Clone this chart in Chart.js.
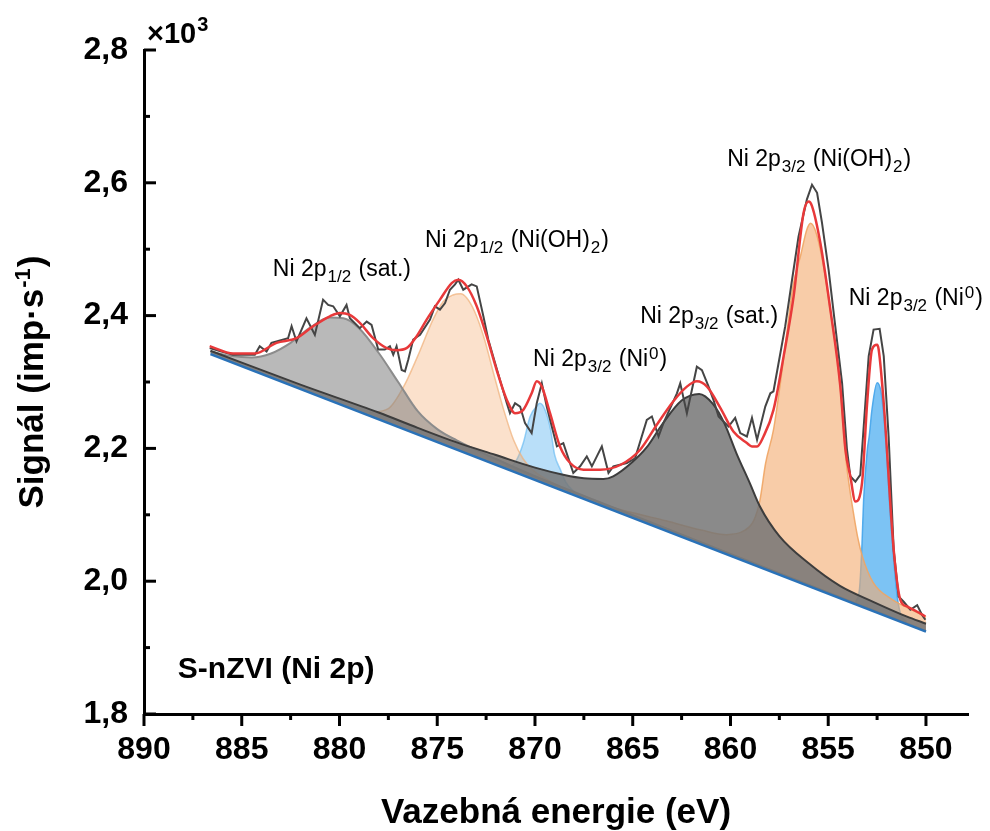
<!DOCTYPE html>
<html><head><meta charset="utf-8">
<script src="https://cdn.jsdelivr.net/npm/chart.js@4.4.1/dist/chart.umd.min.js"></script>
<style>html,body{margin:0;padding:0;background:#fff;}#wrap{width:990px;height:831px;}</style>
</head><body><div id="wrap"><canvas id="c" width="990" height="831"></canvas></div>
<script>
// ---------- data (binding energy in eV, signal in 10^3 imp/s) ----------
const rawEnergy = [886.64,886.04,885.44,884.33,884.08,883.73,883.48,882.63,882.45,882.2,881.69,881.43,881.26,880.84,880.58,880.32,879.98,879.64,879.47,878.96,878.61,878.36,878.02,877.68,877.42,877.25,877.08,876.82,876.65,876.48,876.23,875.88,875.37,875.12,874.86,874.6,874.35,874.09,873.92,873.67,873.24,872.98,872.64,872.39,871.79,871.44,871.28,871.02,870.76,870.51,870.17,869.91,869.65,869.4,869.14,868.88,868.55,868.04,867.69,867.35,867.09,866.58,866.24,865.99,865.3,864.88,864.28,864.02,863.68,863.43,862.74,862.57,862.23,861.72,861.46,861.12,860.87,860.61,860.1,859.76,859.5,859.16,858.9,858.64,858.22,857.96,857.8,857.2,856.85,856.52,856.09,855.83,855.57,855.32,854.98,854.64,854.29,854.04,853.87,853.61,853.36,852.93,852.68,852.37,852.16,851.91,851.65,851.4,851.14,850.8,850.45,850.2,850.03];
const rawSignal = [2.351,2.346,2.341,2.341,2.354,2.346,2.359,2.366,2.384,2.361,2.396,2.381,2.371,2.424,2.416,2.414,2.399,2.416,2.396,2.381,2.391,2.386,2.349,2.349,2.354,2.341,2.354,2.318,2.316,2.334,2.364,2.371,2.394,2.414,2.409,2.419,2.439,2.447,2.454,2.439,2.447,2.444,2.399,2.364,2.303,2.268,2.253,2.268,2.263,2.238,2.223,2.268,2.298,2.263,2.233,2.203,2.208,2.163,2.173,2.188,2.173,2.203,2.163,2.173,2.178,2.185,2.243,2.248,2.218,2.238,2.283,2.298,2.253,2.323,2.318,2.293,2.273,2.248,2.233,2.246,2.223,2.218,2.246,2.213,2.263,2.283,2.286,2.384,2.454,2.519,2.575,2.597,2.585,2.540,2.469,2.384,2.298,2.198,2.158,2.150,2.160,2.339,2.379,2.380,2.339,2.218,2.047,1.977,1.969,1.957,1.964,1.949,1.942];

const envelopeEnergy = [886.64,885.44,884.33,883.22,882.2,881.35,880.49,879.98,879.47,878.96,878.28,877.59,877.08,876.57,876.05,875.54,874.86,874.26,873.92,873.49,872.98,872.47,871.96,871.44,871.02,870.6,870.17,869.91,869.65,869.23,868.72,868.2,867.52,866.67,865.64,864.62,863.76,862.92,862.23,861.72,861.2,860.52,859.84,859.16,858.9,858.64,858.31,857.8,857.28,856.77,856.26,856.0,855.83,855.4,854.89,854.38,854.12,853.87,853.61,853.27,853.01,852.76,852.5,852.42,852.16,851.65,851.31,850.97,850.45,850.03];
const envelopeSignal = [2.354,2.343,2.343,2.359,2.366,2.384,2.399,2.404,2.401,2.389,2.366,2.351,2.348,2.351,2.369,2.394,2.424,2.449,2.454,2.444,2.414,2.369,2.318,2.273,2.253,2.258,2.283,2.301,2.293,2.253,2.203,2.178,2.168,2.168,2.175,2.198,2.236,2.271,2.293,2.301,2.293,2.261,2.225,2.208,2.203,2.203,2.218,2.258,2.339,2.429,2.555,2.572,2.565,2.509,2.409,2.293,2.198,2.158,2.120,2.148,2.268,2.349,2.356,2.349,2.268,2.047,1.972,1.962,1.954,1.947];

const baselineEnergy = [886.6, 850.0];
const baselineSignal = [2.342, 1.924];

// Ni 2p1/2 satellite
const sat12Energy = [886.6,885.5,884.5,883.5,882.5,881.5,880.5,879.8,879.0,878.0,877.0,876.0,875.0,874.0,872.0,870.0,866.0,860.0,850.0];
const sat12Signal = [2.346,2.339,2.337,2.343,2.359,2.382,2.397,2.396,2.381,2.344,2.300,2.256,2.229,2.212,2.184,2.158,2.111,2.041,1.925];
// Ni 2p1/2 Ni(OH)2
const ohx12Energy = [878.5,877.5,876.7,876.0,875.2,874.7,874.2,873.8,873.5,873.1,872.6,872.1,871.6,871.1,870.6,870.1,869.0,867.5];
const ohx12Signal = [2.254,2.260,2.294,2.339,2.395,2.421,2.431,2.433,2.427,2.407,2.366,2.311,2.258,2.213,2.184,2.167,2.147,2.126];
// Ni0 (869.8 eV)
const ni0aEnergy = [871.6,871.2,870.9,870.6,870.25,869.9,869.75,869.5,869.2,869.0,868.7,868.4,868.0,867.5];
const ni0aSignal = [2.173,2.174,2.185,2.208,2.248,2.264,2.268,2.259,2.228,2.191,2.168,2.148,2.135,2.125];
// Ni 2p3/2 satellite
const sat32Energy = [886.6,882.0,878.0,876.0,874.0,872.0,870.0,868.5,867.5,866.5,866.0,865.0,864.3,863.5,862.5,861.6,860.9,860.3,859.7,859.0,858.5,857.5,856.0,854.4,852.7,851.0,850.0];
const sat32Signal = [2.347,2.296,2.254,2.231,2.209,2.190,2.171,2.160,2.155,2.154,2.158,2.180,2.201,2.236,2.272,2.282,2.267,2.237,2.193,2.147,2.113,2.068,2.027,1.993,1.969,1.947,1.936];
// Ni 2p3/2 Ni(OH)2
const ohx32Energy = [866.7,865.0,863.3,861.5,860.2,859.3,858.8,858.5,858.2,857.8,857.45,857.1,856.8,856.4,856.1,855.9,855.6,855.2,854.9,854.55,854.3,854.1,853.9,853.75,853.5,853.25,852.7,851.7,850.8,850.0];
const ohx32Signal = [2.117,2.103,2.091,2.077,2.070,2.076,2.092,2.121,2.178,2.228,2.298,2.378,2.445,2.492,2.529,2.539,2.523,2.468,2.409,2.339,2.263,2.186,2.139,2.110,2.067,2.037,1.998,1.972,1.958,1.946];
// Ni 2p3/2 Ni0
const ni0bEnergy = [853.6,853.4,853.27,853.19,853.0,852.9,852.76,852.5,852.3,852.07,851.82,851.65,851.47,851.3,851.0];
const ni0bSignal = [1.969,1.988,2.057,2.122,2.198,2.219,2.259,2.299,2.285,2.218,2.098,2.032,1.977,1.951,1.939];

const xTickValues = [890,885,880,875,870,865,860,855,850];
const xMinorValues = [887.5,882.5,877.5,872.5,867.5,862.5,857.5,852.5];
const yTickValues = [1.8,2.0,2.2,2.4,2.6,2.8];
const yMinorValues = [1.9,2.1,2.3,2.5,2.7];

const peakLabels = [
  [["Ni 2p","n"],["1/2","sub"],[" (sat.)","n"]],
  [["Ni 2p","n"],["1/2","sub"],[" (Ni(OH)","n"],["2","sub"],[")","n"]],
  [["Ni 2p","n"],["3/2","sub"],[" (Ni","n"],["0","sup"],[")","n"]],
  [["Ni 2p","n"],["3/2","sub"],[" (sat.)","n"]],
  [["Ni 2p","n"],["3/2","sub"],[" (Ni(OH)","n"],["2","sub"],[")","n"]],
  [["Ni 2p","n"],["3/2","sub"],[" (Ni","n"],["0","sup"],[")","n"]]
];
const sampleName = "S-nZVI (Ni 2p)";
const xTitle = "Vazebná energie (eV)";

// ---------- build ----------
const pts = (xs, ys) => xs.map((v, i) => ({x: v, y: ys[i]}));
const BASE = 6;
const comp = (xs, ys, fill, border, bw) => ({
  data: pts(xs, ys), backgroundColor: fill, borderColor: border, borderWidth: bw,
  fill: {target: BASE}, pointRadius: 0, cubicInterpolationMode: 'monotone'
});
const datasets = [
  Object.assign(comp(sat32Energy, sat32Signal, 'rgba(118,118,118,0.85)', '#3d3d3d', 2), {order: 3}),
  Object.assign(comp(sat12Energy, sat12Signal, 'rgba(128,128,128,0.55)', '#8c8c8c', 2), {order: 4}),
  Object.assign(comp(ohx32Energy, ohx32Signal, 'rgba(243,170,110,0.6)', 'rgba(240,165,100,0.9)', 1.5), {order: 5}),
  Object.assign(comp(ohx12Energy, ohx12Signal, 'rgba(243,170,110,0.35)', 'rgba(240,175,120,0.7)', 1.5), {order: 6}),
  Object.assign(comp(ni0bEnergy, ni0bSignal, 'rgba(80,175,240,0.75)', 'rgba(70,165,235,0.9)', 1.5), {order: 7}),
  Object.assign(comp(ni0aEnergy, ni0aSignal, 'rgba(80,175,240,0.4)', 'rgba(90,180,240,0.6)', 1.5), {order: 8}),
  {data: pts(baselineEnergy, baselineSignal), borderColor: '#2a72b8', borderWidth: 2.5, pointRadius: 0, fill: false, order: 2},
  {data: pts(rawEnergy, rawSignal), borderColor: '#454545', borderWidth: 2, pointRadius: 0, fill: false, tension: 0, order: 1},
  {data: pts(envelopeEnergy, envelopeSignal), borderColor: '#e8393a', borderWidth: 2.5, pointRadius: 0, fill: false, cubicInterpolationMode: 'monotone', order: 0}
];

const FONT = '"Liberation Sans", Arial, sans-serif';
function drawRich(ctx, parts, x, y, size) {
  const small = Math.round(size * 0.72);
  let cx = x;
  for (const [t, k] of parts) {
    if (k === 'n') { ctx.font = `${size}px ${FONT}`; ctx.fillText(t, cx, y); cx += ctx.measureText(t).width; }
    else if (k === 'sub') { cx += 1; ctx.font = `${small}px ${FONT}`; ctx.fillText(t, cx, y + 6); cx += ctx.measureText(t).width + 1; }
    else { cx += 1; ctx.font = `${small}px ${FONT}`; ctx.fillText(t, cx, y - 7); cx += ctx.measureText(t).width + 1; }
  }
}
// label anchors in data units (left edge, text baseline)
const labelAnchors = [[883.41,2.460],[875.63,2.504],[870.10,2.324],[864.62,2.389],[860.17,2.626],[853.95,2.416]];

const decor = {
  id: 'decor',
  afterDraw(chart) {
    const {ctx, chartArea: a, scales: {x, y}} = chart;
    ctx.save();
    ctx.strokeStyle = '#000'; ctx.lineWidth = 3; ctx.lineCap = 'butt';
    const seg = (x1, y1, x2, y2) => { ctx.beginPath(); ctx.moveTo(x1, y1); ctx.lineTo(x2, y2); ctx.stroke(); };
    xTickValues.forEach(v => { const p = x.getPixelForValue(v); seg(p, a.bottom, p, a.bottom + 12); });
    xMinorValues.forEach(v => { const p = x.getPixelForValue(v); seg(p, a.bottom, p, a.bottom + 6); });
    yTickValues.forEach(v => { const p = y.getPixelForValue(v); seg(a.left, p, a.left + 12, p); });
    yMinorValues.forEach(v => { const p = y.getPixelForValue(v); seg(a.left, p, a.left + 6, p); });
    ctx.fillStyle = '#000';
    // peak labels
    ctx.textBaseline = 'alphabetic'; ctx.textAlign = 'left';
    peakLabels.forEach((parts, i) => {
      drawRich(ctx, parts, x.getPixelForValue(labelAnchors[i][0]), y.getPixelForValue(labelAnchors[i][1]), 23);
    });
    // sample name
    ctx.font = `bold 30px ${FONT}`;
    ctx.fillText(sampleName, x.getPixelForValue(888.27), y.getPixelForValue(1.854));
    // x10^3
    ctx.font = `bold 29px ${FONT}`;
    ctx.fillText('×10', a.left + 3, a.top - 7);
    const w = ctx.measureText('×10').width;
    ctx.font = `bold 20px ${FONT}`;
    ctx.fillText('3', a.left + 3 + w + 1, a.top - 19);
    // x title
    ctx.font = `bold 35px ${FONT}`; ctx.textAlign = 'center';
    ctx.fillText(xTitle, (a.left + a.right) / 2, 823);
    // y title
    ctx.translate(43, (a.top + a.bottom) / 2);
    ctx.rotate(-Math.PI / 2);
    ctx.textAlign = 'left';
    const p1 = 'Signál (imp·s', sup = '-1', p2 = ')';
    ctx.font = `bold 35px ${FONT}`; const w1 = ctx.measureText(p1).width, w3 = ctx.measureText(p2).width;
    ctx.font = `bold 22px ${FONT}`; const w2 = ctx.measureText(sup).width;
    const tot = w1 + w2 + w3 + 2;
    let cx = -tot / 2;
    ctx.font = `bold 35px ${FONT}`; ctx.fillText(p1, cx, 0); cx += w1 + 1;
    ctx.font = `bold 22px ${FONT}`; ctx.fillText(sup, cx, -13); cx += w2 + 1;
    ctx.font = `bold 35px ${FONT}`; ctx.fillText(p2, cx, 0);
    ctx.restore();
  }
};

new Chart(document.getElementById('c'), {
  type: 'line',
  data: {datasets},
  plugins: [decor],
  options: {
    responsive: false, animation: false, devicePixelRatio: 1,
    layout: {padding: {top: 50, right: 22, left: 0, bottom: 0}},
    plugins: {legend: {display: false}, tooltip: {enabled: false}},
    scales: {
      x: {
        type: 'linear', reverse: true, min: 847.85, max: 890,
        afterBuildTicks: s => { s.ticks = xTickValues.map(v => ({value: v})); },
        afterFit: s => { s.height = 117; },
        grid: {display: false, drawTicks: false},
        border: {display: true, color: '#000', width: 3},
        ticks: {color: '#000', font: {family: FONT, size: 32, weight: 'bold'}, padding: 17, maxRotation: 0, autoSkip: false, callback: v => String(v)}
      },
      y: {
        type: 'linear', min: 1.8, max: 2.8,
        afterBuildTicks: s => { s.ticks = yTickValues.map(v => ({value: v})); },
        afterFit: s => { s.width = 144; },
        grid: {display: false, drawTicks: false},
        border: {display: true, color: '#000', width: 3},
        ticks: {color: '#000', font: {family: FONT, size: 32, weight: 'bold'}, padding: 16, autoSkip: false, callback: v => v.toFixed(1).replace('.', ',')}
      }
    }
  }
});
</script></body></html>
